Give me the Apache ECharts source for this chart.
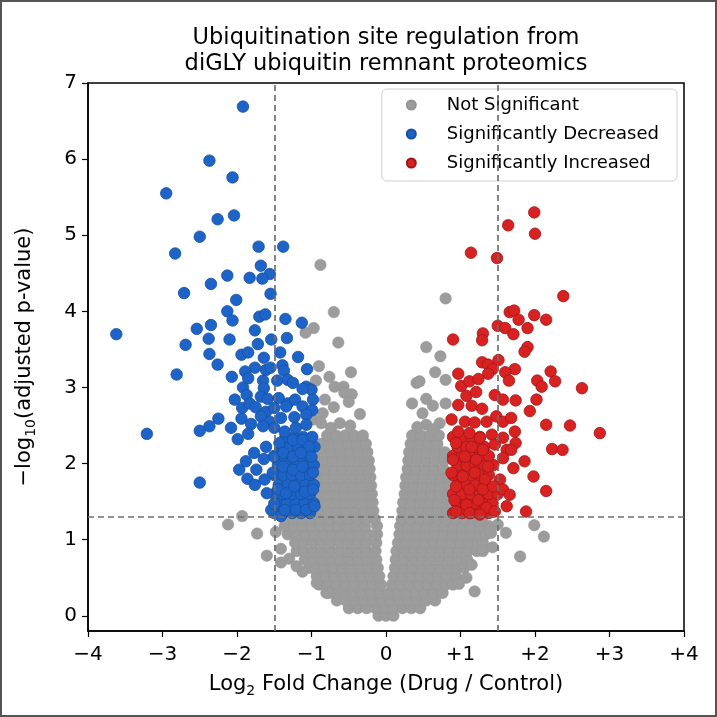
<!DOCTYPE html>
<html>
<head>
<meta charset="utf-8">
<script src="https://cdn.jsdelivr.net/npm/echarts@6/dist/echarts.min.js"></script>
<style>
html,body{margin:0;padding:0;background:#fff;}
#chart{width:717px;height:717px;}
</style>
</head>
<body>
<div id="chart"></div>
<script>
const seriesNames = ['Not Significant', 'Significantly Decreased', 'Significantly Increased']
const xTicks = [-4, -3, -2, -1, 0, 1, 2, 3, 4]
const yTicks = [0, 1, 2, 3, 4, 5, 6, 7]
const fcCut = 1.5
const pCut = 1.301

// dense grey cloud, one row per -log10 p level: [y, x1, x2, ...]
const grayRows = [
  [0.0, -0.1, 0.0, 0.1],
  [0.1, -0.5,-0.38,-0.26,-0.14,-0.02,0.1,0.22,0.34,0.46],
  [0.2, -0.66,-0.54,-0.42,-0.3,-0.18,-0.06,0.06,0.18,0.3,0.42,0.54,0.66],
  [0.3, -0.8,-0.68,-0.56,-0.44,-0.32,-0.2,-0.08,0.04,0.16,0.28,0.4,0.52,0.64,0.76],
  [0.41, -0.9,-0.78,-0.66,-0.54,-0.42,-0.3,-0.18,-0.07,0.08,0.2,0.32,0.44,0.56,0.68,0.8,0.9],
  [0.52, -0.93,-0.81,-0.69,-0.57,-0.45,-0.33,-0.21,-0.09,0.1,0.22,0.34,0.46,0.58,0.7,0.82,0.94],
  [0.63, -1.03,-0.95,-0.83,-0.71,-0.59,-0.47,-0.35,-0.23,-0.11,0.12,0.24,0.36,0.48,0.6,0.72,0.84,0.96,1.05],
  [0.74, -1.09,-0.97,-0.85,-0.73,-0.61,-0.49,-0.37,-0.25,-0.13,0.13,0.25,0.37,0.49,0.61,0.73,0.85,0.97,1.09],
  [0.85, -1.2,-1.1,-0.98,-0.86,-0.74,-0.62,-0.5,-0.38,-0.26,-0.14,0.14,0.26,0.38,0.5,0.62,0.74,0.86,0.98,1.1,1.22],
  [0.96, -1.22,-1.1,-0.98,-0.86,-0.74,-0.62,-0.5,-0.38,-0.26,-0.13,0.16,0.28,0.4,0.52,0.64,0.76,0.88,1.0,1.12,1.24,1.3],
  [1.07, -1.32,-1.2,-1.08,-0.96,-0.84,-0.72,-0.6,-0.48,-0.36,-0.24,-0.12,0.18,0.3,0.42,0.54,0.66,0.78,0.9,1.02,1.14,1.26,1.34],
  [1.18, -1.36,-1.24,-1.12,-1.0,-0.88,-0.76,-0.64,-0.52,-0.4,-0.28,-0.12,0.19,0.31,0.43,0.55,0.67,0.79,0.91,1.03,1.15,1.27,1.38],
  [1.27, -1.36,-1.24,-1.12,-1.0,-0.88,-0.76,-0.63,-0.51,-0.39,-0.27,-0.15,0.21,0.33,0.45,0.57,0.69,0.81,0.93,1.05,1.17,1.29],
  [1.38, -0.89,-0.77,-0.65,-0.53,-0.41,-0.29,-0.17,0.22,0.34,0.46,0.58,0.7,0.82],
  [1.49, -0.9,-0.78,-0.66,-0.54,-0.42,-0.3,-0.18,0.23,0.35,0.47,0.59,0.71,0.83],
  [1.6, -0.91,-0.79,-0.67,-0.55,-0.43,-0.31,-0.19,0.25,0.37,0.49,0.61,0.73,0.84],
  [1.71, -0.92,-0.8,-0.68,-0.56,-0.44,-0.32,-0.2,0.26,0.38,0.5,0.62,0.74,0.85],
  [1.82, -0.92,-0.81,-0.69,-0.57,-0.45,-0.33,-0.21,0.27,0.39,0.51,0.63,0.75,0.85],
  [1.93, -0.93,-0.82,-0.7,-0.58,-0.46,-0.34,-0.22,0.29,0.41,0.53,0.65,0.77],
  [2.04, -0.93,-0.83,-0.71,-0.59,-0.47,-0.35,-0.23,0.3,0.42,0.54,0.66,0.78],
  [2.15, -0.85,-0.73,-0.61,-0.49,-0.37,-0.25,0.31,0.43,0.55,0.67,0.79],
  [2.26, -0.87,-0.75,-0.63,-0.51,-0.39,-0.27,0.33,0.45,0.57,0.69],
  [2.37, -0.79,-0.67,-0.55,-0.43,-0.31,0.35,0.47,0.59,0.71]
]
// scattered grey sites: [log2FC, -log10 p]
const grayPts = [
  [-0.88,4.61],[0.80,4.17],[-0.70,3.99],[-0.97,3.78],[-1.08,3.72],[-0.64,3.59],[0.54,3.53],[0.73,3.41],
  [-0.90,3.28],[-0.76,3.14],[-0.47,3.20],[-0.94,3.09],[-0.69,3.01],[-0.57,3.01],[-0.56,2.93],[-0.46,2.91],
  [0.66,3.20],[0.80,3.10],[0.41,3.06],[0.45,3.08],[-0.82,2.84],[-0.70,2.74],[-0.50,2.81],[-0.35,2.65],
  [-0.85,2.66],[0.35,2.79],[0.54,2.85],[0.63,2.76],[0.80,2.79],[0.49,2.66],[-0.98,2.58],[-0.87,2.53],
  [-0.62,2.53],[-0.74,2.47],[-0.48,2.5],[0.54,2.51],[0.72,2.53],[0.42,2.48],[0.64,2.45],
  [-1.93,1.31],[-2.12,1.20],[-1.73,1.08],[-1.60,0.79],[-1.41,0.88],[-1.41,0.70],[-1.48,1.1],[-1.3,0.75],
  [-1.12,0.58],[-0.93,0.43],[-0.77,0.30],[-1.2,0.65],[1.99,1.19],[2.12,1.04],[1.61,1.09],[1.41,1.09],
  [1.43,0.90],[1.80,0.78],[1.5,1.2],[1.15,0.67],[1.19,0.32],[1.3,0.85],[1.08,0.5],[0.98,0.42]
]
const bluePts = [
  [-1.92,6.69],[-2.37,5.98],[-2.06,5.76],[-2.95,5.55],[-2.26,5.21],[-2.04,5.26],[-2.50,4.98],[-2.83,4.76],
  [-1.71,4.85],[-1.38,4.85],[-1.68,4.60],[-1.56,4.49],[-2.13,4.47],[-1.83,4.44],[-1.66,4.43],[-2.35,4.36],
  [-2.71,4.24],[-1.55,4.23],[-2.01,4.15],[-2.13,4.00],[-1.70,3.93],[-1.62,3.96],[-1.35,3.90],[-2.06,3.88],
  [-1.13,3.85],[-3.62,3.70],[-2.54,3.77],[-2.35,3.82],[-2.38,3.64],[-2.10,3.63],[-1.76,3.75],[-1.54,3.63],
  [-1.33,3.65],[-2.69,3.56],[-2.37,3.44],[-2.26,3.30],[-1.94,3.43],[-1.85,3.46],[-1.72,3.57],[-1.64,3.39],
  [-1.42,3.46],[-1.18,3.40],[-1.76,3.26],[-1.61,3.23],[-1.55,3.26],[-1.39,3.29],[-1.37,3.22],[-1.06,3.24],
  [-2.81,3.17],[-2.07,3.14],[-1.89,3.21],[-1.85,3.12],[-1.65,3.09],[-1.46,3.09],[-1.32,3.10],[-1.25,3.06],
  [-1.07,3.01],[-1.00,2.97],[-1.92,3.00],[-1.64,2.99],[-1.12,2.98],[-2.03,2.84],[-1.87,2.90],[-1.68,2.88],
  [-1.59,2.85],[-1.44,2.86],[-1.32,2.79],[-1.22,2.84],[-0.98,2.84],[-1.93,2.73],[-1.83,2.79],[-1.75,2.74],
  [-1.61,2.68],[-1.50,2.73],[-1.34,2.75],[-1.12,2.75],[-0.99,2.70],[-2.25,2.59],[-2.37,2.49],[-2.50,2.43],
  [-2.08,2.47],[-1.94,2.59],[-1.81,2.52],[-1.68,2.62],[-1.56,2.55],[-1.41,2.60],[-1.23,2.61],[-1.07,2.64],
  [-3.21,2.39],[-1.99,2.32],[-1.85,2.39],[-1.65,2.49],[-1.50,2.47],[-1.36,2.42],[-1.21,2.47],[-1.07,2.51],
  [-1.77,2.14],[-1.61,2.22],[-1.43,2.27],[-1.25,2.31],[-1.12,2.31],[-1.03,2.22],[-1.97,1.92],[-1.88,2.03],
  [-1.74,1.92],[-1.64,2.06],[-1.50,2.09],[-1.38,2.14],[-1.25,2.09],[-1.14,2.14],[-1.00,2.09],[-1.86,1.80],
  [-1.76,1.72],[-1.63,1.79],[-1.52,1.88],[-1.38,1.96],[-1.25,1.92],[-1.12,1.96],[-0.98,1.88],[-2.50,1.75],
  [-1.60,1.61],[-1.45,1.66],[-1.34,1.61],[-1.23,1.70],[-1.09,1.63],[-0.98,1.66],[-1.54,1.39],[-1.50,1.47],
  [-1.41,1.31],[-1.36,1.39],[-1.21,1.39],[-1.07,1.39],[-0.96,1.44]
]
const blueRows = [
  [1.35, -1.5,-1.38,-1.26,-1.14,-1.02],
  [1.48, -1.45,-1.33,-1.21,-1.09,-0.97],
  [1.6, -1.5,-1.38,-1.26,-1.14,-1.02],
  [1.72, -1.44,-1.32,-1.2,-1.08,-0.97],
  [1.85, -1.5,-1.38,-1.26,-1.14,-1.02],
  [1.98, -1.45,-1.33,-1.21,-1.09,-0.97],
  [2.1, -1.5,-1.38,-1.26,-1.14,-1.02],
  [2.22, -1.42,-1.3,-1.18,-1.06,-0.96],
  [2.35, -1.35,-1.23,-1.11,-0.99]
]
const redPts = [
  [1.99,5.30],[1.64,5.13],[2.00,5.02],[1.14,4.77],[1.49,4.70],[2.38,4.20],[1.66,3.99],[1.72,4.01],
  [1.78,3.89],[1.99,3.95],[2.15,3.89],[1.50,3.81],[1.60,3.78],[1.71,3.70],[1.90,3.78],[1.30,3.71],
  [1.29,3.62],[0.90,3.63],[1.90,3.53],[1.86,3.47],[1.29,3.33],[1.37,3.30],[1.51,3.36],[1.43,3.24],
  [1.37,3.18],[0.97,3.18],[1.73,3.24],[1.60,3.20],[1.65,3.09],[2.21,3.21],[2.27,3.08],[2.03,3.09],
  [2.09,3.01],[2.63,2.99],[1.01,3.02],[1.12,3.08],[1.24,3.11],[1.08,2.89],[1.21,2.94],[1.46,2.90],
  [1.57,2.84],[1.74,2.83],[2.02,2.84],[0.97,2.77],[1.15,2.76],[1.29,2.72],[1.93,2.69],[0.88,2.58],
  [1.06,2.55],[1.19,2.54],[1.35,2.55],[1.48,2.62],[1.57,2.55],[1.68,2.60],[1.73,2.42],[2.15,2.51],
  [2.47,2.50],[2.87,2.40],[0.97,2.42],[1.12,2.40],[1.26,2.34],[1.42,2.38],[1.57,2.34],[1.74,2.27],
  [0.94,2.27],[1.15,2.22],[1.30,2.18],[1.46,2.25],[1.62,2.18],[1.68,2.18],[2.23,2.19],[2.37,2.18],
  [0.90,2.05],[1.06,2.09],[1.21,2.05],[1.37,1.96],[1.57,2.07],[1.86,2.03],[1.71,1.94],[1.98,1.83],
  [2.15,1.64],[0.88,1.88],[1.03,1.83],[1.19,1.88],[1.33,1.79],[1.53,1.79],[0.94,1.70],[1.12,1.66],
  [1.30,1.66],[1.44,1.70],[1.57,1.66],[1.66,1.59],[0.92,1.52],[1.08,1.46],[1.24,1.52],[1.35,1.42],
  [1.46,1.37],[1.62,1.44],[0.94,1.37],[1.12,1.35],[1.26,1.33],[1.88,1.37]
]
const redRows = [
  [1.35, 0.9,1.02,1.14,1.26,1.38],
  [1.48, 0.95,1.07,1.19,1.31,1.43],
  [1.6, 0.9,1.02,1.14,1.26,1.38,1.5],
  [1.72, 0.96,1.08,1.2,1.32],
  [1.85, 0.9,1.02,1.14,1.26,1.38],
  [1.98, 0.96,1.08,1.2,1.32,1.44],
  [2.1, 0.9,1.02,1.14,1.26,1.38],
  [2.22, 0.96,1.08,1.2,1.32],
  [2.35, 0.9,1.02,1.14,1.26]
]

function fromRows(rows){
  const out = []
  rows.forEach(r => {
    for(let i = 1; i < r.length; i++) out.push([r[i], r[0]])
  })
  return out
}

const font = 'DejaVu Sans'
const chart = echarts.init(document.getElementById('chart'), null, {renderer:'canvas'})

const dotStyle = (fill, edge, w) => ({
  color: fill,
  borderColor: edge,
  borderWidth: w,
  opacity: 1
})
const nameRich = {
  n: {fontFamily: font, fontSize: 21, color: '#000', lineHeight: 26},
  s: {fontFamily: font, fontSize: 14, color: '#000', lineHeight: 15, verticalAlign: 'bottom'}
}

const option = {
  animation: false,
  backgroundColor: '#fff',
  title: {
    text: 'Ubiquitination site regulation from\ndiGLY ubiquitin remnant proteomics',
    left: 386,
    top: 25,
    textAlign: 'center',
    padding: 0,
    textStyle: {fontFamily: font, fontSize: 22.5, fontWeight: 'normal', color: '#000', lineHeight: 26}
  },
  legend: {
    data: seriesNames,
    orient: 'vertical',
    right: 40,
    top: 89,
    icon: 'circle',
    itemWidth: 9,
    itemHeight: 9,
    itemGap: 11,
    padding: [7, 18, 9, 24],
    backgroundColor: 'rgba(255,255,255,0.8)',
    borderColor: '#cfcfcf',
    borderWidth: 1,
    borderRadius: 5,
    textStyle: {fontFamily: font, fontSize: 18, color: '#000', padding: [0, 0, 0, 26]}
  },
  grid: {
    left: 88, right: 33, top: 83, bottom: 86,
    show: true, borderColor: '#000', borderWidth: 1.5
  },
  xAxis: {
    type: 'value',
    min: -4, max: 4, interval: 1,
    axisLine: {show: true, onZero: false, lineStyle: {color: '#000', width: 1.5}},
    axisTick: {show: true, inside: false, length: 6, lineStyle: {color: '#000', width: 1.2}},
    splitLine: {show: false},
    axisLabel: {
      fontFamily: font, fontSize: 20, color: '#000', margin: 14,
      formatter: v => v < 0 ? '\u2212' + Math.abs(v) : (v > 0 ? '+' + v : '0')
    },
    name: '{n|Log}{s|2}{n| Fold Change (Drug / Control)}',
    nameLocation: 'middle',
    nameGap: 41,
    nameTextStyle: {rich: nameRich}
  },
  yAxis: {
    type: 'value',
    min: -0.2, max: 7,
    axisLine: {show: true, onZero: false, lineStyle: {color: '#000', width: 1.5}},
    axisTick: {show: true, inside: false, length: 6, customValues: yTicks, lineStyle: {color: '#000', width: 1.2}},
    splitLine: {show: false},
    axisLabel: {fontFamily: font, fontSize: 20, color: '#000', margin: 11, customValues: yTicks},
    name: '{n|\u2212log}{s|10}{n|(adjusted p-value)}',
    nameLocation: 'middle',
    nameGap: 50,
    nameTextStyle: {rich: nameRich}
  },
  series: [
    {
      name: seriesNames[0], type: 'scatter', symbolSize: 11.5, z: 2,
      itemStyle: dotStyle('#9c9c9c', '#959595', 0.5),
      emphasis: {disabled: true},
      data: fromRows(grayRows).concat(grayPts)
    },
    {
      name: seriesNames[1], type: 'scatter', symbolSize: 11.5, z: 3,
      itemStyle: dotStyle('#1e64c8', '#14509f', 0.8),
      emphasis: {disabled: true},
      data: fromRows(blueRows).concat(bluePts)
    },
    {
      name: seriesNames[2], type: 'scatter', symbolSize: 11.5, z: 3,
      itemStyle: dotStyle('#d82222', '#a31515', 0.8),
      emphasis: {disabled: true},
      data: fromRows(redRows).concat(redPts)
    },
    {
      name: 'cutoffs', type: 'scatter', z: 5, data: [],
      markLine: {
        silent: true, symbol: 'none', animation: false,
        label: {show: false},
        lineStyle: {color: '#6f6f6f', type: [6, 4], width: 1.7},
        data: [{xAxis: -fcCut}, {xAxis: fcCut}, {yAxis: pCut}]
      }
    }
  ],
  graphic: [{
    type: 'rect', z: 100, silent: true,
    shape: {x: 1, y: 1, width: 715, height: 715},
    style: {fill: 'none', stroke: '#555', lineWidth: 2}
  }]
}
chart.setOption(option)
</script>
</body>
</html>
